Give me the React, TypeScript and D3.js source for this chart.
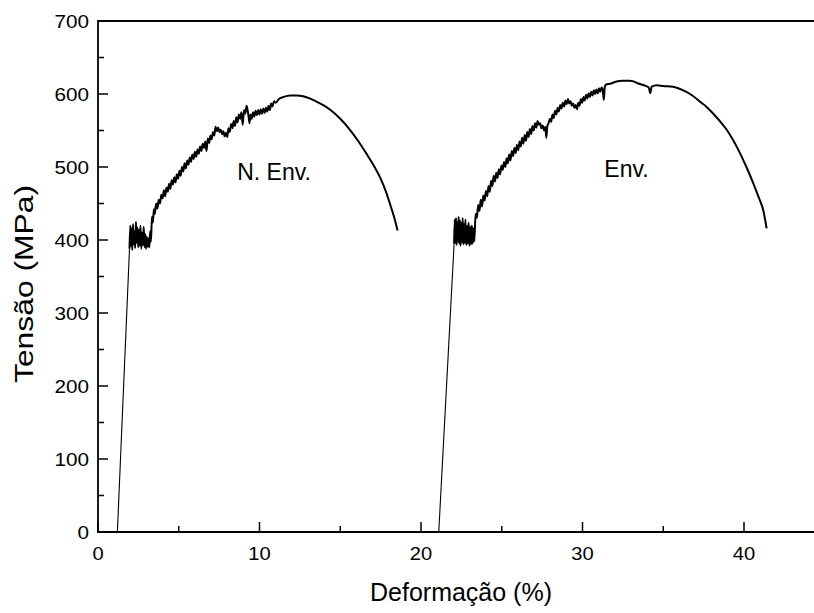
import React from "react";
import * as d3 from "d3";

// ---- Data (strain %, stress MPa) ----
const nEnvCurve: [number, number][] = [
  [1.2, 0], [1.95, 388],
  [2.0, 420], [2.04, 392], [2.08, 416], [2.12, 386], [2.17, 422], [2.21, 394], [2.25, 412], [2.3, 389],
  [2.35, 425], [2.39, 396], [2.44, 417], [2.49, 390], [2.54, 414], [2.58, 392], [2.63, 420], [2.68, 388],
  [2.73, 410], [2.78, 393], [2.83, 418], [2.88, 390], [2.93, 408], [2.98, 388], [3.03, 404], [3.08, 391],
  [3.13, 402], [3.18, 390], [3.23, 412], [3.28, 398],
  [3.34, 432], [3.4, 424], [3.46, 442], [3.52, 436], [3.6, 450], [3.68, 443], [3.76, 455], [3.84, 450],
  [3.92, 462], [4.0, 457], [4.08, 468], [4.16, 460], [4.24, 472], [4.32, 466], [4.4, 477], [4.48, 470],
  [4.56, 482], [4.64, 476], [4.72, 486], [4.8, 479], [4.88, 490], [4.96, 484], [5.04, 495], [5.12, 488],
  [5.2, 500], [5.28, 494], [5.36, 505], [5.44, 498], [5.52, 509], [5.6, 503], [5.68, 513], [5.76, 507],
  [5.84, 517], [5.92, 511], [6.0, 521], [6.08, 514], [6.16, 524], [6.24, 518], [6.32, 528], [6.4, 522],
  [6.48, 532], [6.56, 526], [6.64, 535], [6.72, 522], [6.8, 539], [6.88, 533], [6.96, 543], [7.04, 538],
  [7.12, 548], [7.2, 543], [7.28, 555], [7.36, 549], [7.44, 554], [7.52, 548], [7.6, 551], [7.68, 545],
  [7.76, 549], [7.84, 542], [7.92, 547], [8.0, 541], [8.08, 553], [8.16, 548], [8.24, 559], [8.32, 553],
  [8.4, 563], [8.48, 556], [8.56, 568], [8.64, 561], [8.72, 572], [8.8, 566], [8.88, 575], [8.96, 558],
  [9.04, 578], [9.12, 573], [9.2, 584], [9.26, 578], [9.32, 570], [9.38, 560], [9.44, 572], [9.52, 566],
  [9.6, 575], [9.68, 569], [9.76, 577], [9.84, 571], [9.92, 578], [10.0, 572], [10.08, 579], [10.16, 573],
  [10.24, 580], [10.32, 574], [10.4, 581], [10.48, 576], [10.56, 584], [10.64, 578], [10.72, 587], [10.8, 583],
  [10.9, 590], [11.0, 588],
  [11.2, 593], [11.5, 596], [11.9, 598], [12.3, 598], [12.7, 597], [13.1, 594], [13.5, 590], [14.0, 584],
  [14.4, 578], [15.0, 566], [15.6, 551], [16.1, 536], [16.6, 519], [17.1, 501], [17.5, 484], [17.8, 468],
  [18.1, 448], [18.35, 430], [18.55, 413],
];

const envCurve: [number, number][] = [
  [21.1, 0], [22.05, 395],
  [22.09, 428], [22.13, 396], [22.17, 430], [22.21, 393], [22.25, 425], [22.29, 398], [22.33, 432], [22.37, 395],
  [22.41, 427], [22.45, 392], [22.5, 424], [22.54, 397], [22.58, 430], [22.62, 394], [22.66, 422], [22.7, 396],
  [22.75, 428], [22.8, 393], [22.85, 420], [22.9, 395], [22.95, 424], [23.0, 392], [23.05, 418], [23.1, 394],
  [23.15, 420], [23.2, 395], [23.25, 416], [23.3, 398],
  [23.38, 436], [23.46, 430], [23.54, 448], [23.62, 440], [23.7, 455], [23.78, 446], [23.86, 461], [23.94, 454],
  [24.02, 467], [24.1, 460], [24.18, 474], [24.26, 466], [24.34, 481], [24.42, 474], [24.5, 488], [24.58, 480],
  [24.66, 492], [24.74, 485], [24.82, 497], [24.9, 490], [24.98, 502], [25.06, 496], [25.14, 507], [25.22, 500],
  [25.3, 512], [25.38, 505], [25.46, 517], [25.54, 509], [25.62, 522], [25.7, 515], [25.78, 526], [25.86, 519],
  [25.94, 530], [26.02, 523], [26.1, 535], [26.18, 528], [26.26, 540], [26.34, 532], [26.42, 544], [26.5, 536],
  [26.58, 548], [26.66, 541], [26.74, 552], [26.82, 545], [26.9, 556], [26.98, 550], [27.06, 560], [27.14, 554],
  [27.22, 563], [27.3, 558], [27.38, 560], [27.46, 553], [27.54, 557], [27.62, 550], [27.7, 555], [27.76, 540],
  [27.82, 556], [27.9, 560], [27.98, 566], [28.06, 562], [28.14, 572], [28.22, 567], [28.3, 577], [28.38, 572],
  [28.46, 581], [28.54, 576], [28.62, 585], [28.7, 580], [28.78, 588], [28.86, 583], [28.94, 591], [29.02, 586],
  [29.1, 593], [29.18, 587], [29.26, 590], [29.34, 584], [29.42, 587], [29.5, 581], [29.58, 585], [29.66, 579],
  [29.74, 588], [29.82, 584], [29.9, 593], [29.98, 588], [30.06, 596], [30.14, 591], [30.22, 599], [30.3, 594],
  [30.38, 601], [30.46, 596], [30.54, 603], [30.62, 598], [30.7, 605], [30.78, 600], [30.86, 606], [30.94, 601],
  [31.02, 608], [31.1, 603], [31.18, 609], [31.26, 604], [31.32, 592], [31.38, 610], [31.46, 613],
  [31.7, 614], [32.1, 617], [32.5, 618], [32.9, 618], [33.2, 617], [33.5, 614], [33.8, 612], [34.1, 609],
  [34.2, 601], [34.28, 610], [34.6, 612], [35.0, 611], [35.6, 610], [36.24, 605], [36.8, 598], [37.3, 589],
  [37.7, 582], [38.1, 573], [38.5, 563], [38.93, 551], [39.35, 536], [39.75, 519], [40.15, 500], [40.57, 478],
  [40.9, 459], [41.2, 440], [41.4, 416],
];

const xMajorTicks = [0, 10, 20, 30, 40];
const xMinorTicks = [5, 15, 25, 35];
const yMajorTicks = [0, 100, 200, 300, 400, 500, 600, 700];
const yMinorTicks = [50, 150, 250, 350, 450, 550, 650];

const curveLabels: { text: string; x: number; y: number }[] = [
  { text: "N. Env.", x: 8.62, y: 482 },
  { text: "Env.", x: 31.35, y: 486 },
];

const xTitle = "Deformação (%)";
const yTitle = "Tensão (MPa)";

export default function App() {
  const W = 814;
  const H = 613;
  const left = 98;
  const top = 21;
  const bottom = 532;
  const pxPerUnit = 16.15;

  const x = d3.scaleLinear().domain([0, 45]).range([left, left + 45 * pxPerUnit]);
  const y = d3.scaleLinear().domain([0, 700]).range([bottom, top]);
  const line = d3
    .line<[number, number]>()
    .x((d) => x(d[0]))
    .y((d) => y(d[1]))
    .curve(d3.curveMonotoneX);

  const font = "Arial, 'Liberation Sans', sans-serif";
  const curves = [nEnvCurve, envCurve];

  return (
    <svg
      width={W}
      height={H}
      style={{ position: "absolute", left: 0, top: 0, background: "#fff" }}
      fontFamily={font}
    >
      {/* frame */}
      <line x1={x(0)} x2={W + 5} y1={y(700)} y2={y(700)} stroke="#000" strokeWidth={1.8} />
      <line x1={x(0)} x2={W + 5} y1={y(0)} y2={y(0)} stroke="#000" strokeWidth={1.8} />
      <line x1={x(0)} x2={x(0)} y1={y(0) + 0.9} y2={y(700) - 0.9} stroke="#000" strokeWidth={1.8} />

      {/* x ticks */}
      {xMajorTicks.map((t) => (
        <g key={"xm" + t}>
          <line x1={x(t)} x2={x(t)} y1={y(0)} y2={y(0) - 10} stroke="#000" strokeWidth={1.5} />
          <text
            transform={`translate(${x(t)}, ${y(0) + 28}) scale(1.12, 1)`}
            textAnchor="middle"
            fontSize={18}
          >
            {t}
          </text>
        </g>
      ))}
      {xMinorTicks.map((t) => (
        <line key={"xn" + t} x1={x(t)} x2={x(t)} y1={y(0)} y2={y(0) - 6} stroke="#000" strokeWidth={1.5} />
      ))}

      {/* y ticks */}
      {yMajorTicks.map((t) => (
        <g key={"ym" + t}>
          <line x1={x(0)} x2={x(0) + 10} y1={y(t)} y2={y(t)} stroke="#000" strokeWidth={1.5} />
          <text
            transform={`translate(${x(0) - 9}, ${y(t) + 6.5}) scale(1.15, 1)`}
            textAnchor="end"
            fontSize={18}
          >
            {t}
          </text>
        </g>
      ))}
      {yMinorTicks.map((t) => (
        <line key={"yn" + t} x1={x(0)} x2={x(0) + 6} y1={y(t)} y2={y(t)} stroke="#000" strokeWidth={1.5} />
      ))}

      {/* curves: thin elastic segment, thicker plastic part */}
      {curves.map((c, i) => (
        <g key={"c" + i}>
          <path d={line(c.slice(0, 2)) || ""} fill="none" stroke="#000" strokeWidth={1.1} />
          <path
            d={line(c.slice(1)) || ""}
            fill="none"
            stroke="#000"
            strokeWidth={2}
            strokeLinejoin="round"
          />
        </g>
      ))}

      {curveLabels.map((l) => (
        <text key={l.text} x={x(l.x)} y={y(l.y)} textAnchor="start" fontSize={23}>
          {l.text}
        </text>
      ))}

      {/* axis titles */}
      <text x={461} y={601} textAnchor="middle" fontSize={25}>
        {xTitle}
      </text>
      <text
        transform={`translate(33, 284) rotate(-90)`}
        textAnchor="middle"
        fontSize={25}
        textLength={198}
        lengthAdjust="spacingAndGlyphs"
      >
        {yTitle}
      </text>
    </svg>
  );
}
